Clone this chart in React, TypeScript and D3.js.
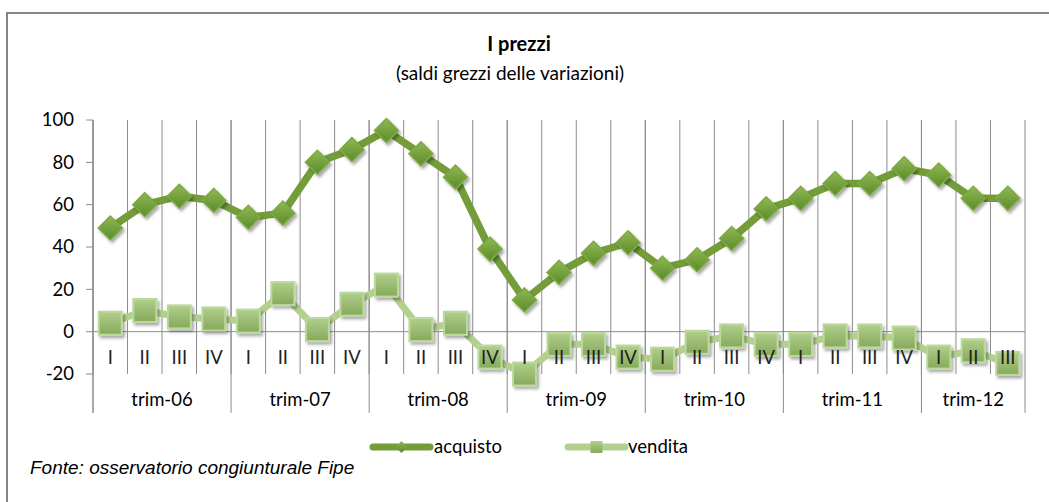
import React from 'react';
import * as d3 from 'd3';

const years = ['trim-06', 'trim-07', 'trim-08', 'trim-09', 'trim-10', 'trim-11', 'trim-12'];
const quartersPerYear = [4, 4, 4, 4, 4, 4, 3];
const quarterNames = ['I', 'II', 'III', 'IV'];

const acquisto = [49, 60, 64, 62, 54, 56, 80, 86, 95, 84, 73, 39, 15, 28, 37, 42, 30, 34, 44, 58, 63, 70, 70, 77, 74, 63, 63];
const vendita = [4, 10, 7, 6, 5, 18, 1, 13, 22, 1, 4, -12, -20, -6, -6, -12, -13, -5, -2, -6, -6, -2, -2, -3, -12, -9, -15];
const yTicks = [-20, 0, 20, 40, 60, 80, 100];

const W = 1049;
const H = 502;
const FONT = 'Lato, "Open Sans", sans-serif';

// quarter categories built from the year list
const cats: { key: string; q: string; year: string }[] = [];
years.forEach((y, i) => {
  for (let k = 0; k < quartersPerYear[i]; k++) cats.push({ key: `${y}-${k}`, q: quarterNames[k], year: y });
});

export default function App() {
  const x = d3.scaleBand<string>().domain(cats.map(c => c.key)).range([93, 1025]).padding(0);
  const y = d3.scaleLinear().domain([-20, 100]).range([374, 120]);
  const cx = (i: number) => (x(cats[i].key) as number) + x.bandwidth() / 2;

  const line = d3.line<number>().x((_, i) => cx(i)).y(d => y(d));

  const yearBounds: { year: string; x0: number; x1: number }[] = [];
  let idx = 0;
  years.forEach((yr, i) => {
    const first = cats[idx].key;
    const last = cats[idx + quartersPerYear[i] - 1].key;
    yearBounds.push({ year: yr, x0: x(first) as number, x1: (x(last) as number) + x.bandwidth() });
    idx += quartersPerYear[i];
  });

  const grid = '#8c8c8c';
  const darkLine = '#749d3a';
  const lightLine = '#b3d08e';
  const dm = 12;
  const sq = 11.5;

  const diamond = (px: number, py: number, s: number) => `M${px},${py - s}L${px + s},${py}L${px},${py + s}L${px - s},${py}Z`;

  return (
    <svg width={W} height={H} style={{ position: 'absolute', left: 0, top: 0 }} fontFamily={FONT}>
      <defs>
        <linearGradient id="gD" x1="0" y1="0" x2="0" y2="1">
          <stop offset="0" stopColor="#8fb954" />
          <stop offset="1" stopColor="#5c8a2a" />
        </linearGradient>
        <linearGradient id="gS" x1="0" y1="0" x2="0" y2="1">
          <stop offset="0" stopColor="#b0cf8c" />
          <stop offset="1" stopColor="#86a95a" />
        </linearGradient>
        <filter id="sh" x="-50%" y="-50%" width="200%" height="200%">
          <feDropShadow dx="2" dy="2.5" stdDeviation="1.6" floodColor="#000" floodOpacity="0.35" />
        </filter>
      </defs>
      <rect x={0} y={0} width={W} height={H} fill="#fff" />
      {/* chart frame */}
      <path d={`M7,${H}V13H${W}`} fill="none" stroke="#858585" strokeWidth={2} />

      <text x={519} y={51} textAnchor="middle" fontSize={20} fontWeight="bold" fill="#000">I prezzi</text>
      <text x={510} y={80} textAnchor="middle" fontSize={19} fill="#000">(saldi grezzi delle variazioni)</text>

      {/* vertical gridlines between quarters */}
      {cats.map(c => (
        <line key={c.key} x1={x(c.key)} x2={x(c.key)} y1={y(100)} y2={y(-20)} stroke={grid} strokeWidth={1} />
      ))}
      {/* year separators */}
      {yearBounds.map(b => (
        <line key={b.year} x1={b.x0} x2={b.x0} y1={y(100)} y2={413} stroke={grid} strokeWidth={1} />
      ))}
      <line x1={1025} x2={1025} y1={y(100)} y2={413} stroke={grid} strokeWidth={1} />

      {/* y axis */}
      <line x1={93} x2={93} y1={y(100)} y2={413} stroke={grid} strokeWidth={1} />
      {yTicks.map(t => (
        <g key={t}>
          <line x1={86} x2={93} y1={y(t)} y2={y(t)} stroke={grid} strokeWidth={1} />
          <text x={74} y={y(t)} dy="0.35em" textAnchor="end" fontSize={18.5} fill="#000">{t}</text>
        </g>
      ))}
      {/* zero line */}
      <line x1={93} x2={1025} y1={y(0)} y2={y(0)} stroke={grid} strokeWidth={1} />

      {/* vendita */}
      <path d={line(vendita) as string} fill="none" stroke={lightLine} strokeWidth={7} strokeLinejoin="round" />
      {vendita.map((v, i) => (
        <rect key={i} x={cx(i) - sq} y={y(v) - sq} width={sq * 2} height={sq * 2} fill="url(#gS)" stroke="#bcd99d" strokeWidth={2} filter="url(#sh)" />
      ))}

      {/* acquisto */}
      <path d={line(acquisto) as string} fill="none" stroke={darkLine} strokeWidth={7.5} strokeLinejoin="round" />
      {acquisto.map((v, i) => (
        <path key={i} d={diamond(cx(i), y(v), dm)} fill="url(#gD)" stroke="#7eaa44" strokeWidth={1.5} filter="url(#sh)" />
      ))}

      {/* category labels */}
      {cats.map((c, i) => (
        <text key={c.key} x={cx(i)} y={358} dy="0.35em" textAnchor="middle" fontSize={18.5} fill="#222">{c.q}</text>
      ))}
      {yearBounds.map(b => (
        <text key={b.year} x={(b.x0 + b.x1) / 2} y={400} dy="0.35em" textAnchor="middle" fontSize={18.5} fill="#000">{b.year}</text>
      ))}

      {/* legend */}
      <line x1={373} x2={430} y1={447} y2={447} stroke={darkLine} strokeWidth={7} strokeLinecap="round" />
      <path d={diamond(401.5, 447, 6)} fill="url(#gD)" />
      <text x={434} y={447} dy="0.35em" fontSize={18.5} fill="#000">acquisto</text>
      <line x1={568} x2={625} y1={447} y2={447} stroke={lightLine} strokeWidth={7} strokeLinecap="round" />
      <rect x={590.5} y={441} width={12} height={12} fill="url(#gS)" />
      <text x={628} y={447} dy="0.35em" fontSize={18.5} fill="#000">vendita</text>

      <text x={30} y={467} dy="0.35em" fontSize={19} fontStyle="italic" fontFamily='"Liberation Sans", Arial, sans-serif' fill="#000">Fonte: osservatorio congiunturale  Fipe</text>
    </svg>
  );
}
